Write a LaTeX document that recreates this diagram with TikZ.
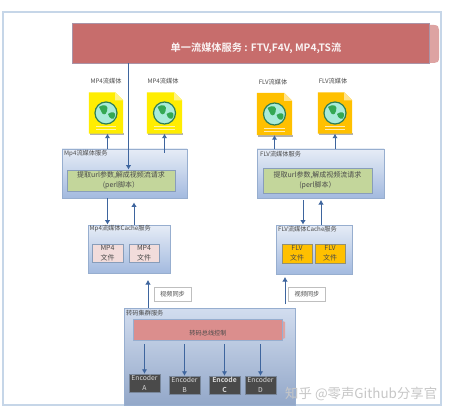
\documentclass[tikz,border=0pt]{standalone}
\usepackage{fontspec}
\setmainfont{Noto Sans CJK SC}
\usetikzlibrary{arrows.meta,calc}
\definecolor{framec}{HTML}{C6D6E8}
\definecolor{bannerc}{HTML}{C76D6C}
\definecolor{bannersh}{HTML}{DDA3A2}
\definecolor{arrc}{HTML}{3E659E}
\definecolor{boxedge}{HTML}{97AECF}
\definecolor{boxtop}{HTML}{E6ECF6}
\definecolor{boxbot}{HTML}{A3BADF}
\definecolor{greenin}{HTML}{C3D69B}
\definecolor{pinkf}{HTML}{F2DCDB}
\definecolor{orangef}{HTML}{FFC000}
\definecolor{busc}{HTML}{DB8E8D}
\definecolor{encc}{HTML}{4A4A4A}
\definecolor{txt}{HTML}{4A4A4A}
\definecolor{globef}{HTML}{A9EBD9}
\definecolor{globee}{HTML}{2F7F55}
\definecolor{landc}{HTML}{34A853}
\newfontface\boldcjk{Noto Sans CJK SC Bold}
\tikzset{
  panel/.style={draw=boxedge,line width=.8pt,top color=boxtop,bottom color=boxbot,inner sep=0pt},
  inner panel/.style={draw=boxedge!90!black,line width=.8pt,inner sep=0pt,align=center,text=txt,font=\fontsize{7}{10}\selectfont},
  svctext/.style={inner panel,fill=greenin},
  mp4file/.style={inner panel,fill=pinkf},
  flvfile/.style={inner panel,fill=orangef,draw=boxedge!70!orangef!80!black},
  lbl/.style={text=txt,font=\fontsize{6.2}{8}\selectfont,inner sep=0pt},
  encoder/.style={fill=encc,draw=boxedge!60!encc,line width=.5pt,text=white!85!black,align=center,inner sep=0pt,font=\fontsize{6.8}{9.5}\selectfont,minimum width=31pt,minimum height=18pt},
  sync/.style={draw=black!25,line width=.7pt,fill=white,text=txt,inner sep=0pt,minimum width=37pt,minimum height=14pt,font=\fontsize{6.2}{8}\selectfont},
  arr/.style={draw=arrc,line width=1pt,-{Latex[length=4.5pt,width=5.5pt]}},
  docnode/.style={inner sep=0pt,minimum width=34pt,minimum height=41pt}
}
\newcommand{\docicon}[2]{%
  \fill[black!30] ($(#1.south west)+(1,1.5)$) rectangle ($(#1.south east)+(1,-.5)$);
  \fill[#2] (#1.north west) -- ($(#1.north east)+(-8,0)$) -- ($(#1.north east)+(0,8)$) -- (#1.south east) -- (#1.south west) -- cycle;
  \fill[white!55!#2] ($(#1.north east)+(-8,0)$) -- ($(#1.north east)+(-8,8)$) -- ($(#1.north east)+(0,8)$) -- cycle;
  \draw[white!70!#2,line width=.8pt] ($(#1.south west)+(7,-7)$) -- ($(#1.south east)+(-7,-7)$) ($(#1.south west)+(7,-4)$) -- ($(#1.south east)+(-7,-4)$);
  \filldraw[fill=globef,draw=globee,line width=1.2pt] ($(#1.center)+(0,0)$) circle (11pt);
  \fill[landc] ($(#1.center)+(-7,-6)$) .. controls ($(#1.center)+(-1,-10)$) and ($(#1.center)+(3,-7)$) .. ($(#1.center)+(1,-2)$) .. controls ($(#1.center)+(0,3)$) and ($(#1.center)+(-4,2)$) .. ($(#1.center)+(-5,-2)$) -- cycle;
  \fill[landc] ($(#1.center)+(2,1)$) .. controls ($(#1.center)+(6,-2)$) and ($(#1.center)+(10,-1)$) .. ($(#1.center)+(9,3)$) .. controls ($(#1.center)+(8,8)$) and ($(#1.center)+(3,6)$) .. ($(#1.center)+(2,1)$) -- cycle;
}
\begin{document}
\begin{tikzpicture}[x=1pt,y=-1pt]
\useasboundingbox (0,0) rectangle (449,414);
\fill[white] (0,0) rectangle (449,414);
\draw[framec,line width=1.2pt] (3,12) rectangle (441,405);

% banner
\fill[bannersh] (420,25) -- (434,25) .. controls (438,25) and (439,27) .. (439,30) -- (439,58) .. controls (439,62) and (437,63) .. (434,63) -- (420,63) -- cycle;
\node[draw=boxedge!60!bannerc,fill=bannerc,line width=.6pt,minimum width=357pt,minimum height=40pt,inner sep=0pt] (banner) at (250.5,43) {};
\node[text=white!92!bannerc,inner sep=0pt,font=\fontsize{10.2}{12}\boldcjk] (bannertext) at (256,48) {单一流媒体服务 : FTV,F4V, MP4,TS流};

% labels and documents
\node[lbl] (l1) at (106,81) {MP4流媒体};
\node[lbl] (l2) at (163,81) {MP4流媒体};
\node[lbl] (l3) at (273,82) {FLV流媒体};
\node[lbl] (l4) at (333,81) {FLV流媒体};
\node[docnode] (doc1) at (106,113) {};
\node[docnode,minimum width=35pt] (doc2) at (164.5,113) {};
\node[docnode,minimum width=35pt,minimum height=42pt] (doc3) at (274.5,114) {};
\node[docnode] (doc4) at (335,113) {};
\docicon{doc1}{yellow!95!orange}
\docicon{doc2}{yellow!95!orange}
\docicon{doc3}{orangef}
\docicon{doc4}{orangef}

% service panels
\node[panel,minimum width=125pt,minimum height=49pt] (mp4svc) at (124.5,173.5) {};
\node[lbl,anchor=west] (mp4svct) at (64,154) {Mp4流媒体服务};
\node[svctext,minimum width=108pt,minimum height=21pt] (mp4in) at (121,180.5) {提取url参数,解成视频流请求\\(perl脚本）};
\node[panel,minimum width=127pt,minimum height=49pt] (flvsvc) at (320.5,173.5) {};
\node[lbl,anchor=west] (flvsvct) at (260,154) {FLV流媒体服务};
\node[svctext,minimum width=109pt,minimum height=25pt] (flvin) at (317.5,180.5) {提取url参数,解成视频流请求\\(perl脚本）};

% cache panels
\node[panel,minimum width=82pt,minimum height=48pt] (mp4cache) at (129,249) {};
\node[lbl,anchor=west] (mp4cachet) at (89.5,229) {Mp4流媒体Cache服务};
\node[mp4file,minimum width=31pt,minimum height=18pt] (mf1) at (107.5,253) {MP4\\文件};
\node[mp4file,minimum width=30pt,minimum height=18pt] (mf2) at (144,253) {MP4\\文件};
\node[panel,minimum width=76pt,minimum height=49pt] (flvcache) at (314,249.5) {};
\node[lbl,anchor=west] (flvcachet) at (278,229.5) {FLV流媒体Cache服务};
\node[flvfile,minimum width=30pt,minimum height=19pt] (ff1) at (297,253.5) {FLV\\文件};
\node[flvfile,minimum width=30pt,minimum height=19pt] (ff2) at (330,253.5) {FLV\\文件};

% cluster
\node[panel,top color=boxtop!70!boxbot,bottom color=boxbot!90!black,minimum width=171pt,minimum height=97pt] (cluster) at (209.5,356.5) {};
\node[lbl,anchor=west] (clustert) at (126,313) {转码集群服务};
\fill[bannersh] (280,320) -- (285,322) -- (285,338) -- (280,340) -- cycle;
\node[draw=boxedge,line width=.7pt,fill=busc,minimum width=149pt,minimum height=21pt,inner sep=0pt] (bus) at (207.5,329.5) {};
\node[lbl] (bust) at (208,333) {转码总线控制};
\node[encoder] (enca) at (144.5,383) {Encoder\\A};
\node[encoder] (encb) at (184.5,385) {Encoder\\B};
\node[encoder,font=\fontsize{6.8}{9.5}\boldcjk] (encc) at (224.5,385) {Encode\\C};
\node[encoder] (encd) at (260.5,385) {Encoder\\D};

% sync labels
\node[sync] (s1) at (172.5,294) {视频同步};
\node[sync] (s2) at (307,294) {视频同步};

% connectors
\draw[arr] (banner.south -| mp4in.north) ++(7.5,0) coordinate (bdrop) -- (bdrop |- mp4in.north);
\draw[arr] ($(mp4svc.north -| doc1.south)+(1.5,0)$) -- ($(doc1.south)+(1.5,0)$);
\draw[arr] ($(mp4svc.north -| doc2.south)+(0,4)$) -- (doc2.south);
\draw[arr] (flvsvc.north -| doc3.south) -- (doc3.south);
\draw[arr] (flvsvc.north -| doc4.south) -- (doc4.south);
\draw[arr] (mp4svc.south -| mf1.north) -- (mp4cache.north -| mf1.north);
\draw[arr] ($(mp4cache.north)+(5,0)$) -- ($(mp4svc.south)+(9.5,4)$);
\draw[arr] ($(flvsvc.south)+(-17.5,2)$) -- (flvcache.north -| 303,0);
\draw[arr] ($(flvcache.north)+(7,0)$) -- (321,200);
\draw[arr] (cluster.north -| 148,0) -- (148,280);
\draw[arr] (285,304) -- (285,277);
\draw[arr] ($(bus.south -| enca.north)+(0,4)$) -- (enca.north);
\draw[arr] ($(bus.south -| encb.north)+(0,4)$) -- (encb.north);
\draw[arr] ($(bus.south -| encc.north)+(0,4)$) -- (encc.north);
\draw[arr] ($(bus.south -| encd.north)+(0,4)$) -- (encd.north);

% watermark
\node[text=black!22,inner sep=0pt,anchor=west,font=\fontsize{13.4}{15}\selectfont] (wm) at (285,394) {知乎 @零声Github分享官};
\end{tikzpicture}
\end{document}
